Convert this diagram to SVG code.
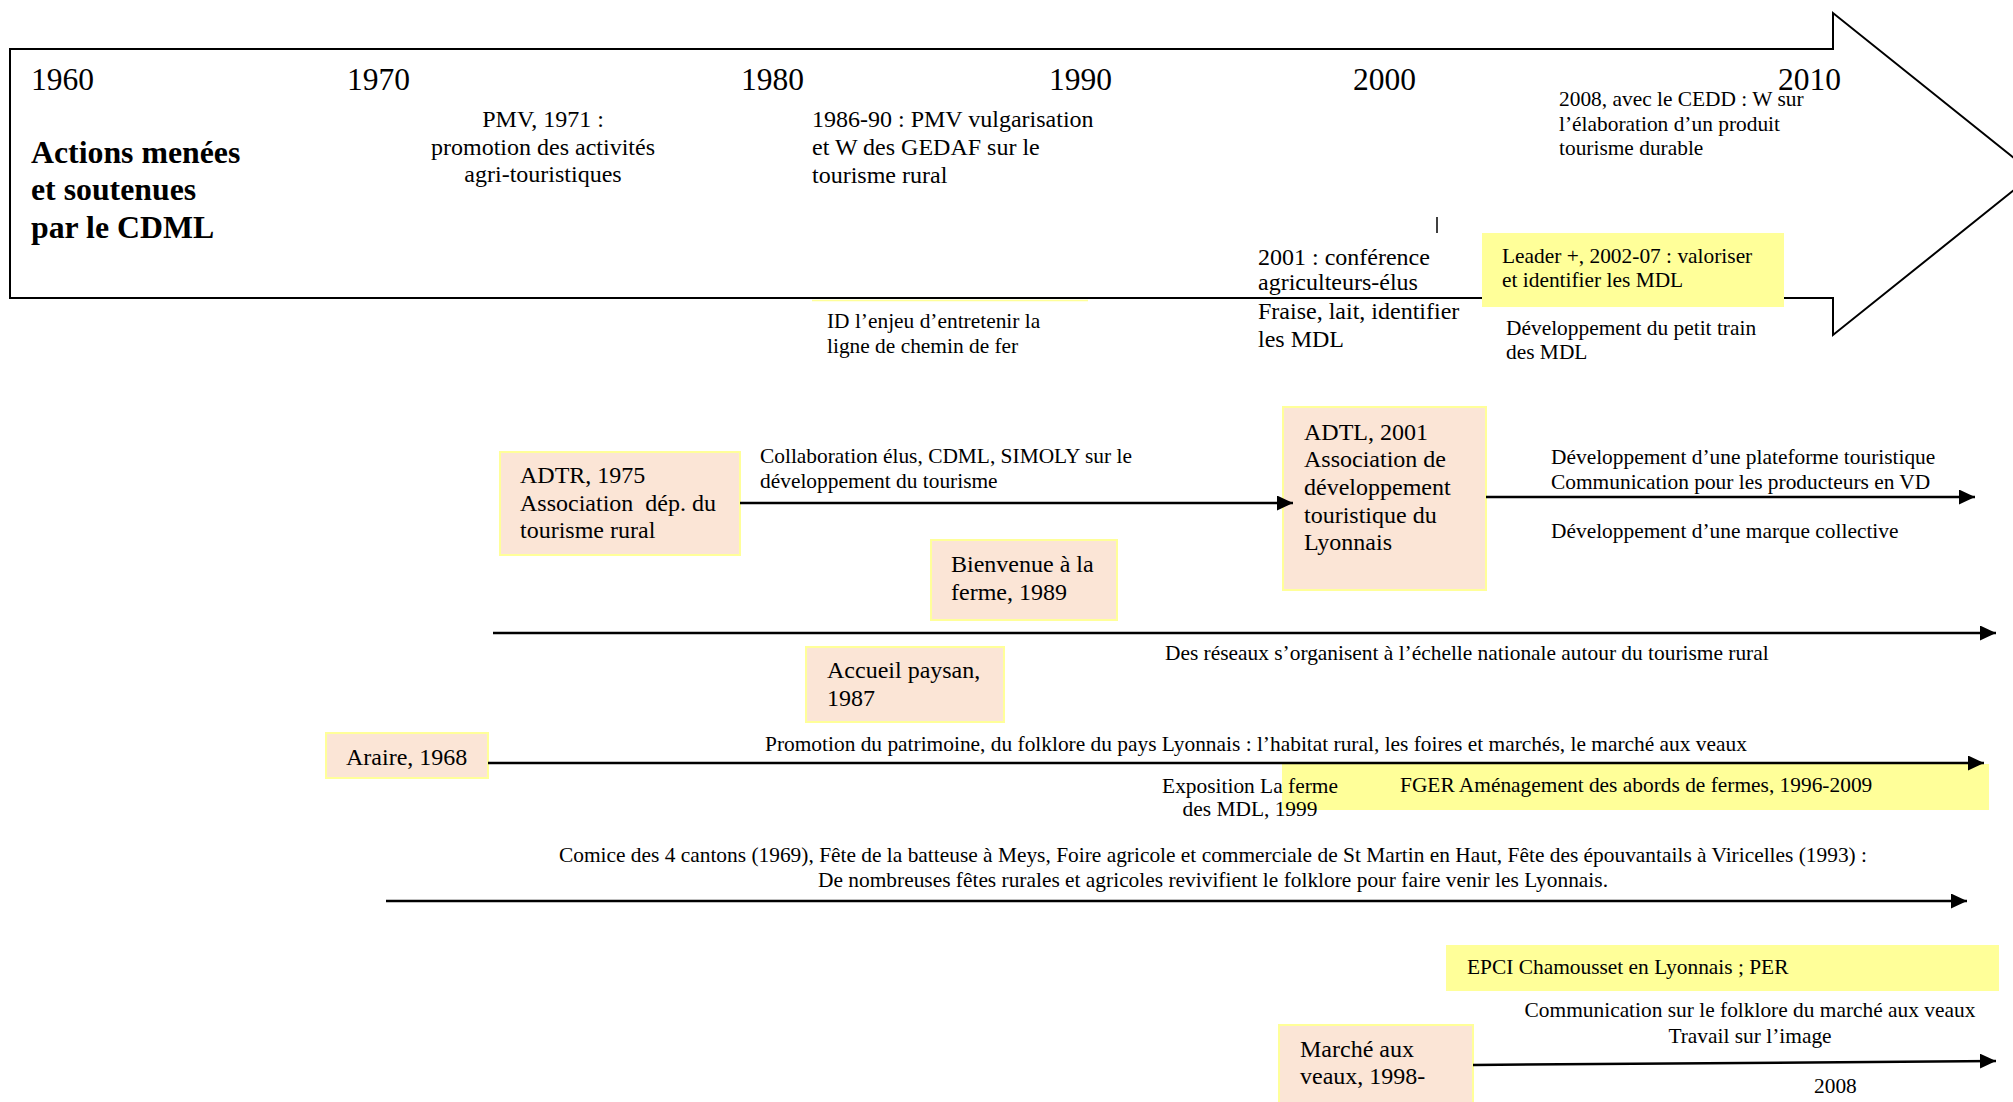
<svg xmlns="http://www.w3.org/2000/svg" width="2013" height="1102" viewBox="0 0 2013 1102">
<defs>
<style>
text{font-family:"Liberation Serif","Times New Roman",serif;fill:#000}
.s21{font-size:21.4px}
.s24{font-size:24px}
.yr{font-size:31.5px}
.ttl{font-size:31.8px;font-weight:bold}
.peach{fill:#fbe5d6;stroke:#ffff99;stroke-width:2}
.yel{fill:#ffff99}
.conn{stroke:#000;stroke-width:2.5;fill:none;marker-end:url(#ah)}
.mid{text-anchor:middle}
</style>
<marker id="ah" markerUnits="userSpaceOnUse" markerWidth="16" markerHeight="15" refX="16" refY="7.5" orient="auto"><path d="M0,0 L16,7.5 L0,15 Z" fill="#000"/></marker>
</defs>
<rect width="2013" height="1102" fill="#fff"/>

<g id="timeline">
<path d="M10,49 L1833,49 L1833,13 L2034,174 L1833,335 L1833,298 L10,298 Z" fill="#fff" stroke="#000" stroke-width="2"/>
<line x1="812" y1="300.5" x2="1088" y2="300.5" stroke="#ffff99" stroke-width="1.5"/>
<line x1="1437" y1="217" x2="1437" y2="233" stroke="#000" stroke-width="1.5"/>
<text class="yr" x="31" y="90">1960</text>
<text class="yr" x="347" y="90">1970</text>
<text class="yr" x="741" y="90">1980</text>
<text class="yr" x="1049" y="90">1990</text>
<text class="yr" x="1353" y="90">2000</text>
<text class="yr" x="1778" y="90">2010</text>
<text class="ttl" x="31"><tspan x="31" y="163">Actions menées</tspan><tspan x="31" y="200">et soutenues</tspan><tspan x="31" y="238">par le CDML</tspan></text>
</g>

<g id="pmv1971">
<text class="s24 mid"><tspan x="543" y="127">PMV, 1971 :</tspan><tspan x="543" y="155">promotion des activités</tspan><tspan x="543" y="182">agri-touristiques</tspan></text>
</g>
<g id="pmv1986">
<text class="s24"><tspan x="812" y="127">1986-90 : PMV vulgarisation</tspan><tspan x="812" y="155">et W des GEDAF sur le</tspan><tspan x="812" y="183">tourisme rural</tspan></text>
</g>
<g id="id-enjeu">
<text class="s21"><tspan x="827" y="328">ID l’enjeu d’entretenir la</tspan><tspan x="827" y="353">ligne de chemin de fer</tspan></text>
</g>
<g id="conf2001">
<text class="s24"><tspan x="1258" y="265">2001 : conférence</tspan><tspan x="1258" y="290">agriculteurs-élus</tspan><tspan x="1258" y="319">Fraise, lait, identifier</tspan><tspan x="1258" y="347">les MDL</tspan></text>
</g>
<g id="cedd2008">
<text class="s21"><tspan x="1559" y="106">2008, avec le CEDD : W sur</tspan><tspan x="1559" y="131">l’élaboration d’un produit</tspan><tspan x="1559" y="155">tourisme durable</tspan></text>
</g>
<g id="leader">
<rect class="yel" x="1482" y="233" width="302" height="74"/>
<text class="s21"><tspan x="1502" y="263">Leader +, 2002-07 : valoriser</tspan><tspan x="1502" y="287">et identifier les MDL</tspan></text>
</g>
<g id="petit-train">
<text class="s21"><tspan x="1506" y="335">Développement du petit train</tspan><tspan x="1506" y="359">des MDL</tspan></text>
</g>

<g id="adtr">
<rect class="peach" x="500" y="452" width="240" height="103"/>
<text class="s24" xml:space="preserve"><tspan x="520" y="483">ADTR, 1975</tspan><tspan x="520" y="511">Association  dép. du</tspan><tspan x="520" y="538">tourisme rural</tspan></text>
</g>
<g id="collab">
<text class="s21"><tspan x="760" y="463">Collaboration élus, CDML, SIMOLY sur le</tspan><tspan x="760" y="488">développement du tourisme</tspan></text>
</g>
<g id="adtl">
<rect class="peach" x="1283" y="407" width="203" height="183"/>
<text class="s24"><tspan x="1304" y="440">ADTL, 2001</tspan><tspan x="1304" y="467">Association de</tspan><tspan x="1304" y="495">développement</tspan><tspan x="1304" y="523">touristique du</tspan><tspan x="1304" y="550">Lyonnais</tspan></text>
</g>
<g id="adtl-actions">
<text class="s21"><tspan x="1551" y="464">Développement d’une plateforme touristique</tspan><tspan x="1551" y="489">Communication pour les producteurs en VD</tspan><tspan x="1551" y="538">Développement d’une marque collective</tspan></text>
</g>
<g id="bienvenue">
<rect class="peach" x="931" y="540" width="186" height="80"/>
<text class="s24"><tspan x="951" y="572">Bienvenue à la</tspan><tspan x="951" y="600">ferme, 1989</tspan></text>
</g>
<g id="reseaux">
<text class="s21" x="1165" y="660">Des réseaux s’organisent à l’échelle nationale autour du tourisme rural</text>
</g>
<g id="accueil">
<rect class="peach" x="806" y="647" width="198" height="75"/>
<text class="s24"><tspan x="827" y="678">Accueil paysan,</tspan><tspan x="827" y="706">1987</tspan></text>
</g>
<g id="araire">
<rect class="peach" x="326" y="733" width="162" height="45"/>
<text class="s24" x="346" y="765">Araire, 1968</text>
</g>
<g id="promotion">
<text class="s21" x="765" y="751">Promotion du patrimoine, du folklore du pays Lyonnais : l’habitat rural, les foires et marchés, le marché aux veaux</text>
</g>
<g id="fger">
<rect class="yel" x="1282" y="764" width="707" height="46"/>
<text class="s21" x="1400" y="792">FGER Aménagement des abords de fermes, 1996-2009</text>
</g>
<g id="exposition">
<text class="s21 mid"><tspan x="1250" y="793">Exposition La ferme</tspan><tspan x="1250" y="816">des MDL, 1999</tspan></text>
</g>
<g id="comice">
<text class="s21 mid"><tspan x="1213" y="862">Comice des 4 cantons (1969), Fête de la batteuse à Meys, Foire agricole et commerciale de St Martin en Haut, Fête des épouvantails à Viricelles (1993) :</tspan><tspan x="1213" y="887">De nombreuses fêtes rurales et agricoles revivifient le folklore pour faire venir les Lyonnais.</tspan></text>
</g>
<g id="epci">
<rect class="yel" x="1446" y="945" width="553" height="46"/>
<text class="s21" x="1467" y="974">EPCI Chamousset en Lyonnais ; PER</text>
</g>
<g id="communication">
<text class="s21 mid"><tspan x="1750" y="1017">Communication sur le folklore du marché aux veaux</tspan><tspan x="1750" y="1043">Travail sur l’image</tspan></text>
</g>
<g id="marche">
<rect class="peach" x="1279" y="1025" width="194" height="90"/>
<text class="s24"><tspan x="1300" y="1057">Marché aux</tspan><tspan x="1300" y="1084">veaux, 1998-</tspan></text>
</g>
<g id="y2008">
<text class="s21" x="1814" y="1093">2008</text>
</g>

<g id="connectors">
<path class="conn" d="M740,503 L1293,503"/>
<path class="conn" d="M1486,497 L1975,497"/>
<path class="conn" d="M493,633 L1996,633"/>
<path class="conn" d="M488,763 L1984,763"/>
<path class="conn" d="M386,901 L1967,901"/>
<path class="conn" d="M1473,1065 L1996,1061"/>
</g>
</svg>
